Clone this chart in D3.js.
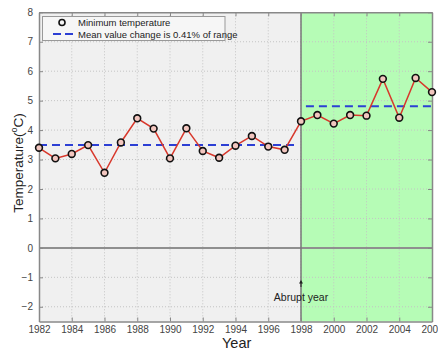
<!DOCTYPE html>
<html><head><meta charset="utf-8">
<script src="https://cdn.jsdelivr.net/npm/d3@7"></script>
<style>body{margin:0;background:#fff;}svg{display:block;font-family:Arial,"Liberation Sans",sans-serif;}</style>
</head><body><svg id="c" width="438" height="352"></svg>
<script>
const years = [1982,1983,1984,1985,1986,1987,1988,1989,1990,1991,1992,1993,1994,1995,1996,1997,1998,1999,2000,2001,2002,2003,2004,2005,2006];
const minTemp = [3.40,3.04,3.19,3.49,2.55,3.58,4.40,4.05,3.04,4.06,3.29,3.06,3.47,3.80,3.44,3.33,4.30,4.51,4.22,4.51,4.49,5.74,4.42,5.77,5.29];
const meanBefore = {x0:1982, x1:1997.7, value:3.49};
const meanAfter = {x0:1998.3, x1:2006, value:4.81};
const abruptYear = 1998;
const xTicks = [1982,1984,1986,1988,1990,1992,1994,1996,1998,2000,2002,2004,2006];
const yTicks = [-2,-1,0,1,2,3,4,5,6,7,8];
const legendLabels = ["Minimum temperature","Mean value change is 0.41% of range"];

const svg = d3.select("#c");
const L=39, R=432, T=12.3, B=321.5;
const x = d3.scaleLinear().domain([1982,2006]).range([L,R]);
const y = d3.scaleLinear().domain([-2.5,8]).range([B,T]);

svg.append("rect").attr("x",x(1982)).attr("y",T).attr("width",x(abruptYear)-x(1982)).attr("height",B-T).attr("fill","#f0f0f0");
svg.append("rect").attr("x",x(abruptYear)).attr("y",T).attr("width",x(2006)-x(abruptYear)).attr("height",B-T).attr("fill","#b6fcb6");

const g = svg.append("g");
g.selectAll(".vg").data(xTicks.slice(1,-1)).enter().append("line")
 .attr("x1",d=>x(d)).attr("x2",d=>x(d)).attr("y1",T).attr("y2",B)
 .attr("stroke","#c4c4c4").attr("stroke-width",1).attr("stroke-dasharray","1,2");
g.selectAll(".hg").data(yTicks.filter(d=>d!==8 && d!==0)).enter().append("line")
 .attr("x1",L).attr("x2",R).attr("y1",d=>y(d)).attr("y2",d=>y(d))
 .attr("stroke","#c4c4c4").attr("stroke-width",1).attr("stroke-dasharray","1,2");

svg.append("line").attr("x1",L).attr("x2",R).attr("y1",y(0)).attr("y2",y(0)).attr("stroke","#8f8f8f").attr("stroke-width",2);
svg.append("line").attr("x1",x(abruptYear)).attr("x2",x(abruptYear)).attr("y1",T).attr("y2",B).attr("stroke","#777").attr("stroke-width",1.5);

const xAx = svg.append("g").attr("transform",`translate(0,${B})`)
 .call(d3.axisBottom(x).tickValues(xTicks).tickFormat(d3.format("d")).tickSizeInner(-4).tickSizeOuter(0).tickPadding(4));
const xAxT = svg.append("g").attr("transform",`translate(0,${T})`)
 .call(d3.axisTop(x).tickValues(xTicks).tickFormat("").tickSizeInner(-4).tickSizeOuter(0));
const yAx = svg.append("g").attr("transform",`translate(${L},0)`)
 .call(d3.axisLeft(y).tickValues(yTicks).tickFormat(d3.format("d")).tickSizeInner(-4).tickSizeOuter(0).tickPadding(6));
const yAxR = svg.append("g").attr("transform",`translate(${R},0)`)
 .call(d3.axisRight(y).tickValues(yTicks).tickFormat("").tickSizeInner(-4).tickSizeOuter(0));
[xAx,xAxT,yAx,yAxR].forEach(a=>{
  a.select(".domain").attr("stroke","#888").attr("stroke-width",1.5);
  a.selectAll(".tick line").attr("stroke","#888");
  a.selectAll("text").attr("fill","#444").attr("font-size",10).attr("font-family","Arial,'Liberation Sans',sans-serif");
});

[meanBefore,meanAfter].forEach(m=>{
  svg.append("line").attr("x1",x(m.x0)).attr("x2",x(m.x1)).attr("y1",y(m.value)).attr("y2",y(m.value))
   .attr("stroke","#2c3fd4").attr("stroke-width",2).attr("stroke-dasharray","8,5");
});

const line = d3.line().x((d,i)=>x(years[i])).y(d=>y(d));
svg.append("path").datum(minTemp).attr("d",line).attr("fill","none").attr("stroke","#d8382c").attr("stroke-width",1.5);
svg.selectAll(".pt").data(minTemp).enter().append("circle")
 .attr("cx",(d,i)=>x(years[i])).attr("cy",d=>y(d)).attr("r",3.4)
 .attr("fill","#f2c6bf").attr("stroke","#111").attr("stroke-width",1.6);

const lg = svg.append("g");
lg.append("rect").attr("x",42.5).attr("y",16.5).attr("width",182.5).attr("height",24).attr("fill","#f6f6f6").attr("stroke","#999").attr("stroke-width",1);
lg.append("circle").attr("cx",62).attr("cy",22.5).attr("r",3).attr("fill","none").attr("stroke","#111").attr("stroke-width",1.6);
lg.append("line").attr("x1",53).attr("x2",76).attr("y1",34).attr("y2",34).attr("stroke","#2c3fd4").attr("stroke-width",2).attr("stroke-dasharray","8,4");
lg.append("text").attr("x",78).attr("y",26).attr("font-size",9.5).attr("fill","#222").text(legendLabels[0]);
lg.append("text").attr("x",78).attr("y",37.5).attr("font-size",9.5).attr("fill","#222").text(legendLabels[1]);

svg.append("line").attr("x1",x(abruptYear)).attr("x2",x(abruptYear)).attr("y1",287).attr("y2",281.5).attr("stroke","#222").attr("stroke-width",1);
svg.append("path").attr("d",`M${x(abruptYear)-2},${283.5} L${x(abruptYear)},${280} L${x(abruptYear)+2},${283.5} Z`).attr("fill","#222");
svg.append("text").attr("x",x(abruptYear)).attr("y",301).attr("text-anchor","middle").attr("font-size",10.5).attr("fill","#222").text("Abrupt year");

svg.append("text").attr("x",222).attr("y",348).attr("font-size",14.5).attr("fill","#222").text("Year");
const yl = svg.append("text").attr("transform","translate(23,163) rotate(-90)").attr("text-anchor","middle").attr("font-size",13.5).attr("fill","#222");
yl.append("tspan").text("Temperature(");
yl.append("tspan").attr("font-size",9).attr("dy",-6).text("o");
yl.append("tspan").attr("dy",6).text("C)");
</script></body></html>
